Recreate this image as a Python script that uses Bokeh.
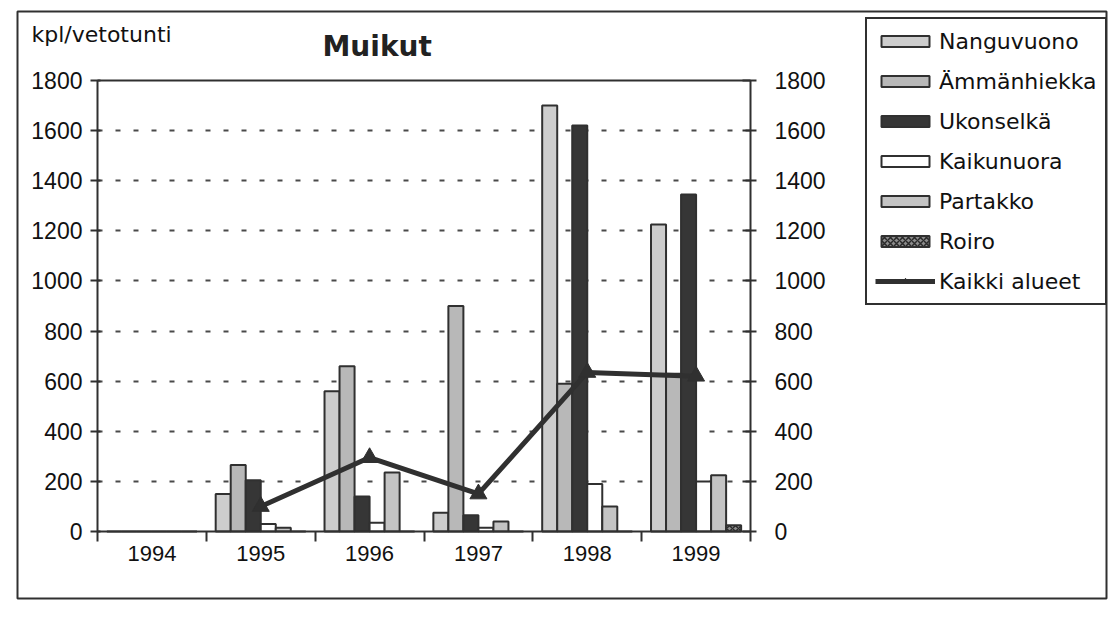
from bokeh.plotting import figure
from bokeh.models import (Range1d, LinearAxis, FixedTicker, SingleIntervalTicker,
                          Legend, LegendItem, Label, BoxAnnotation, ColumnDataSource)
from bokeh.embed import file_html
from bokeh.resources import INLINE

# ---------------- data ----------------
years = ["1994", "1995", "1996", "1997", "1998", "1999"]
series_names = ["Nanguvuono", "Ämmänhiekka", "Ukonselkä", "Kaikunuora", "Partakko", "Roiro"]
nanguvuono = [0, 150, 560, 75, 1700, 1225]
ammanhiekka = [0, 265, 660, 900, 590, 630]
ukonselka = [0, 205, 140, 65, 1620, 1345]
kaikunuora = [0, 30, 35, 15, 190, 200]
partakko = [0, 15, 235, 40, 100, 225]
roiro = [0, 0, 0, 0, 0, 25]
kaikki_alueet = [None, 100, 295, 150, 635, 620]
line_name = "Kaikki alueet"
title_text = "Muikut"
unit_text = "kpl/vetotunti"
y_max = 1800
y_step = 200

series_values = [nanguvuono, ammanhiekka, ukonselka, kaikunuora, partakko, roiro]

# ---------------- styles / layout ----------------
fills = ["#cdcdcd", "#b8b8b8", "#363636", "#ffffff", "#c4c4c4", "#8c8c8c"]
hatches = [None, None, None, None, None, "x"]
INK = "#303030"
NUM_FONT = "Liberation Sans"
TXT_FONT = "DejaVu Sans"

W, H = 1112, 625                 # canvas (the frame fills all of it)
PX_LEFT, PX_RIGHT = 97, 750      # plot area in pixels
PX_TOP, PX_BASE = 80, 531

n_cat = len(years)
n_ser = len(series_names)
bar_w = 0.138

kx = (PX_RIGHT - PX_LEFT) / n_cat
ky = (PX_BASE - PX_TOP) / y_max
x_range = Range1d(-PX_LEFT / kx, (W - PX_LEFT) / kx)
y_range = Range1d(-(H - PX_BASE) / ky, PX_BASE / ky)

p = figure(width=W, height=H, min_border=0, min_border_left=0, min_border_right=0,
           min_border_top=0, min_border_bottom=0,
           x_range=x_range, y_range=y_range,
           output_backend="svg", toolbar_location=None)
p.extra_y_ranges = {"right": Range1d(y_range.start, y_range.end)}
p.outline_line_color = None
p.background_fill_color = "white"
p.border_fill_color = "white"

# grid (dashed, only inside the plot area)
p.xgrid.visible = False
p.ygrid.ticker = SingleIntervalTicker(interval=y_step, num_minor_ticks=0)
p.ygrid.bounds = (y_step, y_max - y_step)
p.ygrid.cross_bounds = (0, n_cat)
p.ygrid.grid_line_color = "#4a4a4a"
p.ygrid.grid_line_width = 2
p.ygrid.grid_line_dash = "5 13"

# x axis
xa = p.xaxis[0]
xa.fixed_location = 0
xa.bounds = (0, n_cat)
centers = [i + 0.5 for i in range(n_cat)]
xa.ticker = FixedTicker(ticks=centers, minor_ticks=list(range(n_cat + 1)))
xa.major_label_overrides = {c: y for c, y in zip(centers, years)}
xa.major_tick_out = 0
xa.major_tick_in = 0
xa.minor_tick_out = 10
xa.minor_tick_in = 0
xa.minor_tick_line_color = INK
xa.minor_tick_line_width = 2
xa.axis_line_color = INK
xa.axis_line_width = 2
xa.major_label_standoff = 4
xa.major_label_text_font = NUM_FONT
xa.major_label_text_font_size = "22px"
xa.major_label_text_color = "#111111"

# left y axis
ya = p.yaxis[0]
ya.fixed_location = 0
ya.bounds = (0, y_max)
ya.ticker = SingleIntervalTicker(interval=y_step, num_minor_ticks=0)
ya.major_tick_out = 7
ya.major_tick_in = 3
ya.minor_tick_out = 0
ya.minor_tick_in = 0
ya.major_tick_line_color = INK
ya.major_tick_line_width = 2
ya.axis_line_color = INK
ya.axis_line_width = 2
ya.major_label_standoff = 8
ya.major_label_text_font = NUM_FONT
ya.major_label_text_font_size = "23px"
ya.major_label_text_color = "#111111"

# right y axis (secondary, same scale)
ra = LinearAxis(y_range_name="right", fixed_location=n_cat, bounds=(0, y_max),
                ticker=SingleIntervalTicker(interval=y_step, num_minor_ticks=0))
ra.major_tick_out = 6
ra.major_tick_in = 8
ra.minor_tick_out = 0
ra.minor_tick_in = 0
ra.major_tick_line_color = INK
ra.major_tick_line_width = 2
ra.axis_line_color = INK
ra.axis_line_width = 2
ra.major_label_standoff = 18
ra.major_label_text_font = NUM_FONT
ra.major_label_text_font_size = "23px"
ra.major_label_text_color = "#111111"
p.add_layout(ra, "right")

# top edge of the plot area
p.segment(x0=[0], y0=[y_max], x1=[n_cat], y1=[y_max], line_color=INK, line_width=2)

# bars
legend_items = []
for k, (name, vals) in enumerate(zip(series_names, series_values)):
    off = (k - (n_ser - 1) / 2) * bar_w
    src = ColumnDataSource(dict(x=[i + 0.5 + off for i in range(n_cat)], top=vals))
    kw = dict(x="x", top="top", bottom=0, width=bar_w, source=src,
              fill_color=fills[k], line_color=INK, line_width=2)
    if hatches[k]:
        kw.update(hatch_pattern=hatches[k], hatch_color="#2a2a2a", hatch_scale=6, hatch_weight=1.5)
    r = p.vbar(**kw)
    legend_items.append(LegendItem(label=name, renderers=[r]))

# total line on secondary axis
lsrc = ColumnDataSource(dict(x=centers, y=[float("nan") if v is None else v for v in kaikki_alueet]))
lr = p.line("x", "y", source=lsrc, y_range_name="right", line_color=INK, line_width=5)
mr = p.scatter("x", "y", source=lsrc, y_range_name="right", marker="triangle", size=17,
               fill_color=INK, line_color=INK)
legend_items.append(LegendItem(label=line_name, renderers=[lr, mr]))

LEG_LEFT, LEG_TOP = 865, 21
leg_h = 2 * 8 + len(legend_items) * 28 + (len(legend_items) - 1) * 12
legend = Legend(items=legend_items, location=(LEG_LEFT, H - LEG_TOP - leg_h))
legend.glyph_width = 60
legend.glyph_height = 14
legend.label_height = 28
legend.spacing = 12
legend.padding = 8
legend.margin = 0
legend.label_standoff = 4
legend.label_text_font = TXT_FONT
legend.label_text_font_size = "22px"
legend.label_text_color = "#111111"
legend.border_line_color = INK
legend.border_line_width = 2
legend.border_line_alpha = 1
legend.background_fill_color = "white"
legend.background_fill_alpha = 1
p.add_layout(legend)

# texts (screen units: from the frame's bottom-left, frame = whole canvas)
p.add_layout(Label(x=322, y=H - 46, x_units="screen", y_units="screen", text=title_text,
                   text_font=TXT_FONT, text_font_style="bold", text_font_size="28px",
                   text_baseline="alphabetic", text_color="#222222"))
p.add_layout(Label(x=31, y=H - 34, x_units="screen", y_units="screen", text=unit_text,
                   text_font=TXT_FONT, text_font_size="22px",
                   text_baseline="alphabetic", text_color="#111111"))

# outer frame of the chart area
p.add_layout(BoxAnnotation(left=17, right=1106, bottom=H - 598, top=H - 11,
                           left_units="screen", right_units="screen",
                           bottom_units="screen", top_units="screen",
                           fill_alpha=0, line_color=INK, line_alpha=1, line_width=2,
                           level="underlay"))

open("out.html", "w").write(file_html(p, INLINE))
